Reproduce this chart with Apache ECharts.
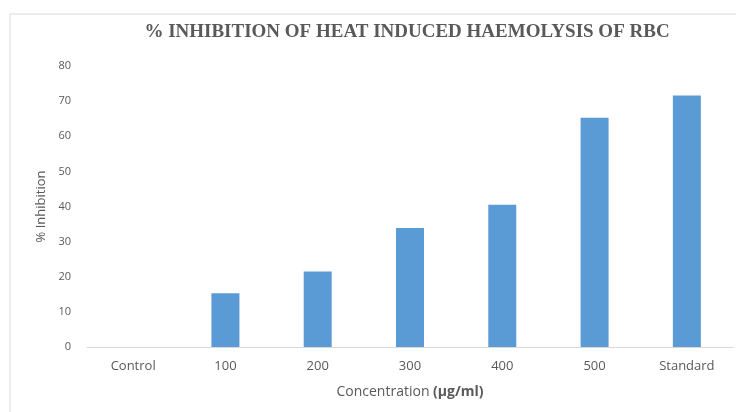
<!DOCTYPE html>
<html>
<head>
<meta charset="utf-8">
<script src="https://cdn.jsdelivr.net/npm/echarts@6/dist/echarts.min.js"></script>
<style>
  html, body { margin: 0; padding: 0; background: #fff; }
  #chart { width: 736px; height: 412px; }
</style>
</head>
<body>
<div id="chart"></div>
<script>
var categories = ['Control', '100', '200', '300', '400', '500', 'Standard'];
var inhibition = [0, 15.3, 21.5, 33.9, 40.5, 65.3, 71.6];
var yTicks = [0, 80, 10]; // min, max, interval

var chart = echarts.init(document.getElementById('chart'));

chart.setOption({
    animation: false,
    title: {
        text: '% INHIBITION OF HEAT INDUCED HAEMOLYSIS OF RBC',
        left: 402,
        top: 18,
        textAlign: 'center',
        textStyle: {
            fontFamily: 'Liberation Serif',
            fontWeight: 'bold',
            fontSize: 19,
            color: '#595959'
        }
    },
    graphic: [
        {
            type: 'rect',
            shape: { x: 10, y: 14, width: 760, height: 430 },
            style: { fill: 'none', stroke: '#d9d9d9', lineWidth: 1 },
            silent: true
        }
    ],
    grid: { left: 87, right: 3, top: 66, bottom: 65 },
    xAxis: {
        type: 'category',
        data: categories,
        name: 'Concentration {b|(µg/ml)}',
        nameLocation: 'middle',
        nameGap: 38,
        nameTextStyle: {
            fontFamily: 'Open Sans',
            fontSize: 14,
            color: '#595959',
            rich: {
                b: { fontFamily: 'Open Sans', fontSize: 14, fontWeight: 'bold', color: '#595959' }
            }
        },
        axisLine: { lineStyle: { color: '#d9d9d9' } },
        axisTick: { show: false },
        axisLabel: {
            margin: 13,
            fontFamily: 'Open Sans',
            fontSize: 13,
            color: '#595959'
        }
    },
    yAxis: {
        type: 'value',
        min: yTicks[0],
        max: yTicks[1],
        interval: yTicks[2],
        name: '% Inhibition',
        nameLocation: 'middle',
        nameGap: 37,
        nameRotate: 90,
        nameTextStyle: {
            fontFamily: 'Open Sans',
            fontSize: 13,
            color: '#595959'
        },
        axisLine: { show: false },
        axisTick: { show: false },
        splitLine: { show: false },
        axisLabel: {
            margin: 16,
            fontFamily: 'Open Sans',
            fontSize: 11,
            color: '#595959'
        }
    },
    series: [
        {
            type: 'bar',
            data: inhibition,
            barWidth: 28,
            itemStyle: { color: '#5b9bd5' }
        }
    ]
});
</script>
</body>
</html>
